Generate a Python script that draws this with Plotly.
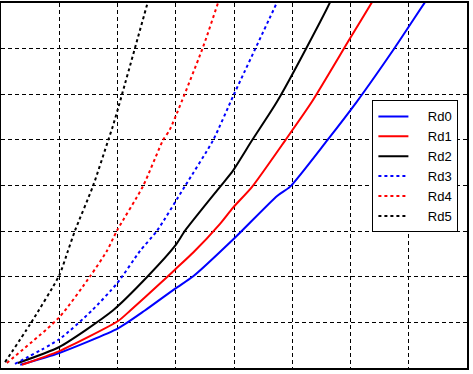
import plotly.graph_objects as go

names = ["Rd0", "Rd1", "Rd2", "Rd3", "Rd4", "Rd5"]
colors = ["#0000FF", "#FF0000", "#000000", "#0000FF", "#FF0000", "#000000"]
dashes = ["solid", "solid", "solid", "dot", "dot", "dot"]

rd0_x = [0.33, 1.00, 2.01, 2.47, 2.99, 3.30, 4.02, 4.74, 4.96, 5.60, 6.11, 6.76, 7.28, 7.33]
rd0_y = [0.07, 0.33, 0.87, 1.26, 1.74, 2.01, 2.86, 3.77, 3.97, 4.99, 5.84, 7.02, 8.02, 8.11]

rd1_x = [0.36, 1.00, 2.01, 2.22, 2.73, 2.99, 3.30, 3.76, 3.98, 4.31, 4.88, 5.34, 5.99, 6.37, 6.42]
rd1_y = [0.07, 0.37, 1.03, 1.26, 1.85, 2.16, 2.53, 3.16, 3.51, 3.97, 4.99, 5.84, 7.22, 8.02, 8.13]

rd2_x = [0.29, 1.00, 1.92, 2.52, 2.99, 3.16, 3.76, 3.98, 4.31, 4.74, 5.48, 5.65, 5.68]
rd2_y = [0.11, 0.46, 1.26, 2.01, 2.68, 3.01, 3.97, 4.32, 4.99, 5.84, 7.59, 8.02, 8.11]

rd3_x = [0.24, 1.00, 1.56, 1.99, 2.39, 2.68, 3.16, 3.64, 4.00, 4.74, 4.77]
rd3_y = [0.09, 0.63, 1.26, 1.85, 2.57, 3.01, 3.99, 4.99, 6.00, 8.02, 8.11]

rd4_x = [0.10, 1.00, 1.53, 1.82, 1.99, 2.44, 2.78, 2.90, 3.47, 3.73, 3.76]
rd4_y = [0.11, 1.11, 2.01, 2.57, 3.01, 3.99, 4.99, 5.23, 7.04, 8.02, 8.13]

rd5_x = [0.07, 0.50, 1.00, 1.15, 1.27, 1.58, 1.84, 1.92, 2.01, 2.52, 2.54]
rd5_y = [0.13, 0.96, 2.03, 2.57, 3.01, 3.99, 4.99, 5.30, 5.69, 8.02, 8.11]

xs = [rd0_x, rd1_x, rd2_x, rd3_x, rd4_x, rd5_x]
ys = [rd0_y, rd1_y, rd2_y, rd3_y, rd4_y, rd5_y]

PAD = "\u00a0" * 4

fig = go.Figure()
for n, c, d, x, y in zip(names, colors, dashes, xs, ys):
    fig.add_trace(go.Scatter(
        x=x, y=y, name=PAD + n, mode="lines",
        line=dict(color=c, dash=d, width=2, shape="spline", smoothing=0.6),
    ))

axis_common = dict(
    range=[0, 8], dtick=1, tick0=0,
    showgrid=True, gridcolor="black", griddash="4px,3px", gridwidth=1,
    zeroline=False, showline=True, linecolor="black", linewidth=2,
    mirror=True, showticklabels=False, ticks="",
)

fig.update_layout(
    width=473, height=374,
    margin=dict(l=1, r=6, t=1, b=6, pad=0),
    paper_bgcolor="white", plot_bgcolor="white",
    font=dict(family="Liberation Sans, Arial, sans-serif", size=13, color="black"),
    xaxis=axis_common, yaxis=axis_common,
    showlegend=True,
    legend=dict(
        x=0.797, y=0.733, xanchor="left", yanchor="top",
        bgcolor="white", bordercolor="black", borderwidth=1,
        font=dict(size=13), tracegroupgap=0,
    ),
)

fig.write_html("out.html", config={"displayModeBar": False},
               post_script="document.body.style.margin='0px';")
